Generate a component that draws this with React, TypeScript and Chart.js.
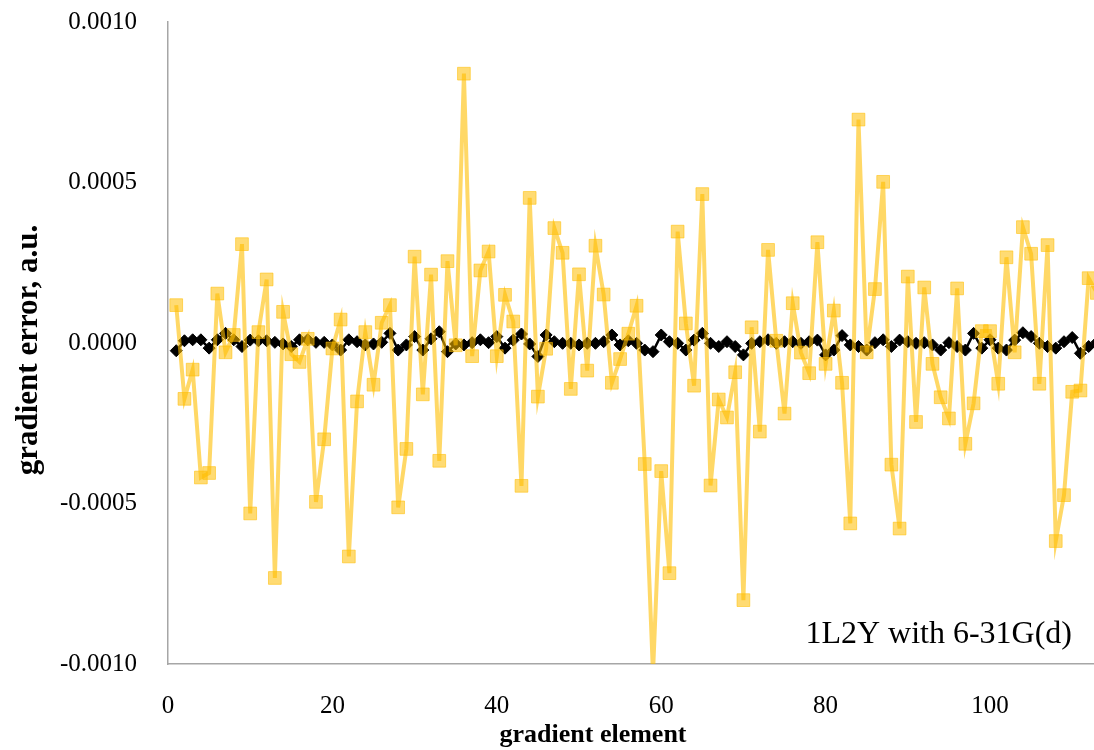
import React, { useEffect, useRef } from "react";
import { Chart, registerables } from "chart.js";

Chart.register(...registerables);

const gradientElements = [
  1, 2, 3, 4, 5, 6, 7, 8, 9, 10, 11, 12, 13, 14, 15, 16, 17, 18, 19, 20,
  21, 22, 23, 24, 25, 26, 27, 28, 29, 30, 31, 32, 33, 34, 35, 36, 37, 38, 39, 40,
  41, 42, 43, 44, 45, 46, 47, 48, 49, 50, 51, 52, 53, 54, 55, 56, 57, 58, 59, 60,
  61, 62, 63, 64, 65, 66, 67, 68, 69, 70, 71, 72, 73, 74, 75, 76, 77, 78, 79, 80,
  81, 82, 83, 84, 85, 86, 87, 88, 89, 90, 91, 92, 93, 94, 95, 96, 97, 98, 99, 100,
  101, 102, 103, 104, 105, 106, 107, 108, 109, 110, 111, 112, 113,
];

// yellow series (larger errors)
const errorYellow = [
  1.18e-4, -1.74e-4, -0.83e-4, -4.19e-4, -4.05e-4, 1.54e-4, -0.29e-4, 0.25e-4, 3.08e-4, -5.31e-4,
  0.34e-4, 1.98e-4, -7.32e-4, 0.97e-4, -0.35e-4, -0.59e-4, 0.13e-4, -4.95e-4, -3.0e-4, -0.17e-4,
  0.73e-4, -6.65e-4, -1.82e-4, 0.34e-4, -1.3e-4, 0.63e-4, 1.18e-4, -5.12e-4, -3.3e-4, 2.69e-4,
  -1.6e-4, 2.13e-4, -3.67e-4, 2.55e-4, -0.07e-4, 8.39e-4, -0.41e-4, 2.26e-4, 2.85e-4, -0.41e-4,
  1.5e-4, 0.67e-4, -4.45e-4, 4.52e-4, -1.67e-4, -0.18e-4, 3.58e-4, 2.81e-4, -1.43e-4, 2.14e-4,
  -0.86e-4, 3.03e-4, 1.51e-4, -1.24e-4, -0.5e-4, 0.29e-4, 1.16e-4, -3.77e-4, -10.3e-4, -3.99e-4,
  -7.17e-4, 3.47e-4, 0.61e-4, -1.33e-4, 4.64e-4, -4.44e-4, -1.76e-4, -2.32e-4, -0.91e-4, -8.01e-4,
  0.49e-4, -2.76e-4, 2.9e-4, 0.07e-4, -2.2e-4, 1.24e-4, -0.3e-4, -0.94e-4, 3.14e-4, -0.65e-4,
  1.01e-4, -1.24e-4, -5.62e-4, 6.96e-4, -0.29e-4, 1.68e-4, 5.02e-4, -3.79e-4, -5.78e-4, 2.07e-4,
  -2.46e-4, 1.73e-4, -0.65e-4, -1.69e-4, -2.35e-4, 1.7e-4, -3.14e-4, -1.88e-4, 0.37e-4, 0.37e-4,
  -1.27e-4, 2.67e-4, -0.29e-4, 3.61e-4, 2.78e-4, -1.27e-4, 3.05e-4, -6.17e-4, -4.74e-4, -1.52e-4,
  -1.48e-4, 2.02e-4, 1.56e-4,
];

// black series (small errors)
const errorBlack = [
  -0.24e-4, 0.07e-4, 0.1e-4, 0.1e-4, -0.16e-4, 0.1e-4, 0.3e-4, 0.1e-4, -0.11e-4, 0.09e-4,
  0.07e-4, 0.07e-4, 0.02e-4, -0.03e-4, -0.11e-4, 0.1e-4, 0.1e-4, 0.02e-4, 0.02e-4, -0.06e-4,
  -0.22e-4, 0.1e-4, 0.04e-4, -0.06e-4, -0.03e-4, 0.02e-4, 0.3e-4, -0.22e-4, -0.06e-4, 0.2e-4,
  -0.22e-4, 0.13e-4, 0.35e-4, -0.27e-4, -0.03e-4, -0.06e-4, 0.01e-4, 0.1e-4, 0.01e-4, 0.2e-4,
  -0.16e-4, 0.09e-4, 0.28e-4, -0.03e-4, -0.42e-4, 0.25e-4, 0.04e-4, -0.01e-4, -0.01e-4, -0.06e-4,
  -0.01e-4, -0.01e-4, 0.04e-4, 0.25e-4, -0.06e-4, 0.07e-4, -0.01e-4, -0.22e-4, -0.27e-4, 0.25e-4,
  0.04e-4, -0.01e-4, -0.22e-4, 0.09e-4, 0.3e-4, -0.01e-4, -0.11e-4, 0.04e-4, -0.11e-4, -0.37e-4,
  -0.01e-4, 0.04e-4, 0.1e-4, -0.01e-4, 0.04e-4, 0.04e-4, -0.01e-4, 0.04e-4, 0.09e-4, -0.37e-4,
  -0.22e-4, 0.23e-4, -0.06e-4, -0.11e-4, -0.22e-4, 0.01e-4, 0.1e-4, -0.11e-4, 0.09e-4, 0.04e-4,
  -0.01e-4, 0.01e-4, -0.06e-4, -0.22e-4, 0.01e-4, -0.11e-4, -0.22e-4, 0.3e-4, -0.16e-4, 0.1e-4,
  -0.16e-4, -0.22e-4, 0.09e-4, 0.32e-4, 0.2e-4, -0.01e-4, -0.11e-4, -0.16e-4, 0.04e-4, 0.17e-4,
  -0.32e-4, -0.11e-4, 0.02e-4,
];

const xTickValues = [0, 20, 40, 60, 80, 100];
const yTickValues = [-0.001, -0.0005, 0, 0.0005, 0.001];

const xTitle = "gradient element";
const yTitle = "gradient error, a.u.";
const annotationText = "1L2Y with 6-31G(d)";

const SERIF = "'Liberation Serif', 'Times New Roman', serif";

const textPlugin = {
  id: "customTexts",
  afterDraw(chart: any) {
    const ctx = chart.ctx;
    ctx.save();
    ctx.fillStyle = "#000";
    // y title
    ctx.save();
    ctx.translate(37, 350);
    ctx.rotate(-Math.PI / 2);
    ctx.font = `bold 31px ${SERIF}`;
    ctx.textAlign = "center";
    ctx.textBaseline = "alphabetic";
    ctx.fillText(yTitle, 0, 0);
    ctx.restore();
    // x title
    ctx.font = `bold 26px ${SERIF}`;
    ctx.textAlign = "center";
    ctx.textBaseline = "alphabetic";
    ctx.fillText(xTitle, 593, 742);
    // annotation
    ctx.font = `32px ${SERIF}`;
    ctx.textAlign = "right";
    ctx.fillText(annotationText, 1072, 643);
    ctx.restore();
  },
};

export default function App() {
  const canvasRef = useRef<HTMLCanvasElement | null>(null);

  useEffect(() => {
    if (!canvasRef.current) return;
    const yellowPts = gradientElements.map((x, i) => ({ x, y: errorYellow[i] }));
    const blackPts = gradientElements.map((x, i) => ({ x, y: errorBlack[i] }));

    const chart = new Chart(canvasRef.current, {
      type: "line",
      data: {
        datasets: [
          {
            label: "yellow",
            data: yellowPts,
            order: 0,
            borderColor: "rgba(255, 190, 0, 0.6)",
            borderWidth: 4,
            pointStyle: "rect",
            pointRadius: 9,
            pointBackgroundColor: "rgba(255, 190, 0, 0.55)",
            pointBorderColor: "rgba(255, 190, 0, 0.55)",
            pointBorderWidth: 1,
            tension: 0,
          },
          {
            label: "black",
            data: blackPts,
            order: 1,
            borderColor: "#000",
            borderWidth: 2.5,
            pointStyle: "rectRot",
            pointRadius: 6,
            pointBackgroundColor: "#000",
            pointBorderColor: "#000",
            pointBorderWidth: 1,
            tension: 0,
          },
        ],
      },
      options: {
        animation: false,
        responsive: true,
        maintainAspectRatio: false,
        layout: { autoPadding: false, padding: { left: 0, top: 22, right: 0, bottom: 0 } },
        plugins: {
          legend: { display: false },
          tooltip: { enabled: false },
        },
        scales: {
          x: {
            type: "linear",
            min: 0,
            max: 112.65,
            afterBuildTicks: (axis: any) => {
              axis.ticks = xTickValues.map((v) => ({ value: v }));
            },
            afterFit: (s: any) => {
              s.height = 86;
            },
            grid: { display: false, drawTicks: true, tickLength: 27 },
            border: { display: true, color: "#a6a6a6", width: 1.5 },
            ticks: {
              color: "#000",
              padding: 0,
              font: { family: SERIF, size: 25 },
              callback: (v: any) => String(v),
              maxRotation: 0,
              autoSkip: false,
            },
          },
          y: {
            type: "linear",
            min: -0.001,
            max: 0.001,
            afterBuildTicks: (axis: any) => {
              axis.ticks = yTickValues.map((v) => ({ value: v }));
            },
            afterFit: (s: any) => {
              s.width = 168;
            },
            grid: { display: false, drawTicks: true, tickLength: 31 },
            border: { display: true, color: "#a6a6a6", width: 1.5 },
            ticks: {
              color: "#000",
              padding: 0,
              font: { family: SERIF, size: 25 },
              callback: (v: any) => (Math.abs(v) < 1e-12 ? "0.0000" : Number(v).toFixed(4)),
              autoSkip: false,
            },
          },
        },
      },
      plugins: [textPlugin],
    } as any);

    return () => chart.destroy();
  }, []);

  return (
    <div style={{ position: "absolute", left: 0, top: 0, width: 1094, height: 750, background: "#fff" }}>
      <canvas ref={canvasRef} />
    </div>
  );
}
